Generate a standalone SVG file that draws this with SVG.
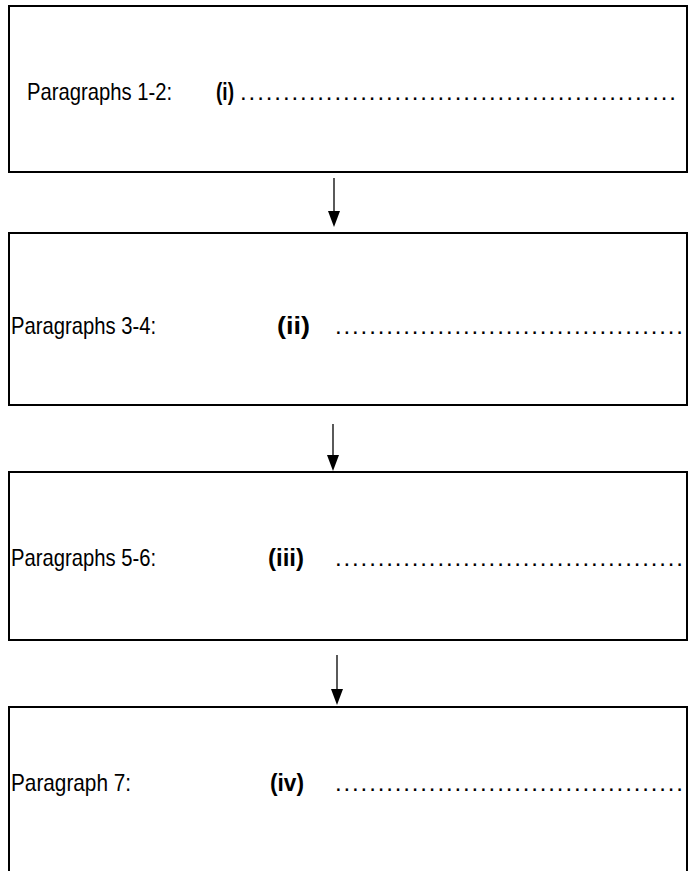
<svg xmlns="http://www.w3.org/2000/svg" width="695" height="871" viewBox="0 0 695 871">
  <style>
    .box { fill: #ffffff; stroke: #000000; stroke-width: 2; }
    .label { font-family: "Liberation Sans", Arial, sans-serif; font-size: 24px; fill: #000000; }
    .num { font-family: "Liberation Sans", Arial, sans-serif; font-size: 24px; font-weight: bold; fill: #000000; }
    .dots { font-family: "Liberation Sans", Arial, sans-serif; font-size: 24px; fill: #000000; }
    .link { stroke: #000000; stroke-width: 1.3; fill: none; }
    .head { fill: #000000; }
  </style>
  <rect width="695" height="871" fill="#ffffff"/>

  <g id="node-para-1-2">
    <rect class="box" x="9" y="6" width="678" height="166"/>
    <text class="label" x="27" y="100" textLength="145" lengthAdjust="spacingAndGlyphs">Paragraphs 1-2:</text>
    <text class="num" x="216" y="100" textLength="18" lengthAdjust="spacingAndGlyphs">(i)</text>
    <text class="dots" x="240" y="100" textLength="436" lengthAdjust="spacing">...................................................</text>
  </g>

  <g id="node-para-3-4">
    <rect class="box" x="9" y="233" width="678" height="172"/>
    <text class="label" x="11" y="334" textLength="145" lengthAdjust="spacingAndGlyphs">Paragraphs 3-4:</text>
    <text class="num" x="277" y="334" textLength="33" lengthAdjust="spacingAndGlyphs">(ii)</text>
    <text class="dots" x="335" y="334" textLength="348" lengthAdjust="spacing">.........................................</text>
  </g>

  <g id="node-para-5-6">
    <rect class="box" x="9" y="472" width="678" height="168"/>
    <text class="label" x="11" y="566" textLength="145" lengthAdjust="spacingAndGlyphs">Paragraphs 5-6:</text>
    <text class="num" x="268" y="566" textLength="36" lengthAdjust="spacingAndGlyphs">(iii)</text>
    <text class="dots" x="335" y="566" textLength="348" lengthAdjust="spacing">.........................................</text>
  </g>

  <g id="node-para-7">
    <rect class="box" x="9" y="707" width="678" height="200"/>
    <text class="label" x="11" y="791" textLength="120" lengthAdjust="spacingAndGlyphs">Paragraph 7:</text>
    <text class="num" x="270" y="791" textLength="34" lengthAdjust="spacingAndGlyphs">(iv)</text>
    <text class="dots" x="335" y="791" textLength="348" lengthAdjust="spacing">.........................................</text>
  </g>

  <g id="connectors">
    <line class="link" x1="334" y1="178" x2="334" y2="212"/>
    <path class="head" d="M328,211 L340,211 L334,227 Z"/>
    <line class="link" x1="333" y1="424" x2="333" y2="456"/>
    <path class="head" d="M327,455 L339,455 L333,471 Z"/>
    <line class="link" x1="337" y1="655" x2="337" y2="690"/>
    <path class="head" d="M331,689 L343,689 L337,705 Z"/>
  </g>
</svg>
